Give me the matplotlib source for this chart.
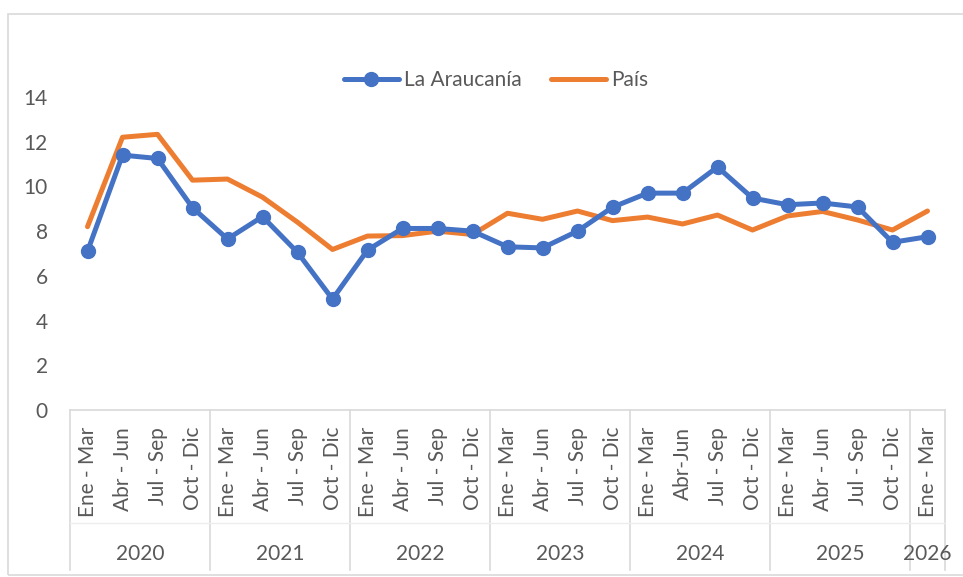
import matplotlib
matplotlib.use("Agg")
import matplotlib.pyplot as plt
from matplotlib.patches import Rectangle

plt.rcParams['font.family'] = ['Lato', 'DejaVu Sans']

years = ['2020', '2021', '2022', '2023', '2024', '2025', '2026']
quarters_per_year = [4, 4, 4, 4, 4, 4, 1]
quarter_labels = ['Ene - Mar', 'Abr - Jun', 'Jul - Sep', 'Oct - Dic',
                  'Ene - Mar', 'Abr - Jun', 'Jul - Sep', 'Oct - Dic',
                  'Ene - Mar', 'Abr - Jun', 'Jul - Sep', 'Oct - Dic',
                  'Ene - Mar', 'Abr - Jun', 'Jul - Sep', 'Oct - Dic',
                  'Ene - Mar', 'Abr-Jun', 'Jul - Sep', 'Oct - Dic',
                  'Ene - Mar', 'Abr - Jun', 'Jul - Sep', 'Oct - Dic',
                  'Ene - Mar']

araucania = [7.1, 11.4, 11.25, 9.05, 7.65, 8.65, 7.05, 4.96,
             7.15, 8.12, 8.12, 8.0, 7.3, 7.25, 8.0, 9.07,
             9.7, 9.7, 10.87, 9.48, 9.18, 9.26, 9.08, 7.5, 7.75]
pais = [8.2, 12.2, 12.33, 10.28, 10.33, 9.52, 8.4, 7.18,
        7.78, 7.8, 8.0, 7.85, 8.8, 8.53, 8.9, 8.47,
        8.63, 8.32, 8.72, 8.05, 8.68, 8.88, 8.5, 8.05, 8.9]

blue = '#4472C4'
orange = '#ED7D31'
gray_txt = '#595959'
gray_line = '#D9D9D9'
fs = 15

fig = plt.figure(figsize=(9.63, 5.77), dpi=100)
ax = fig.add_axes([70 / 963, 167 / 577, 875 / 963, 313 / 577])

x = list(range(len(quarter_labels)))
ax.plot(x, araucania, color=blue, lw=3.6, marker='o', ms=10,
        label='La Araucanía', solid_capstyle='round', zorder=3)
ax.plot(x, pais, color=orange, lw=3.6, label='País',
        solid_capstyle='round', zorder=2)

ax.set_xlim(-0.5, len(x) - 0.5)
ax.set_ylim(0, 14)
ax.set_yticks(range(0, 15, 2))
ax.tick_params(axis='y', length=0, pad=16, labelsize=fs, labelcolor=gray_txt)
ax.set_xticks([])
for s in ['left', 'top', 'right']:
    ax.spines[s].set_visible(False)
ax.spines['bottom'].set_color(gray_line)
ax.spines['bottom'].set_linewidth(1.2)

# multi-level category axis
trans = ax.get_xaxis_transform()
h = 313.0
for i, lab in enumerate(quarter_labels):
    ax.text(i, -17 / h, lab, rotation=90, ha='center', va='top',
            fontsize=fs, color=gray_txt, transform=trans)

start = 0
bounds = [-0.5]
for yr, n in zip(years, quarters_per_year):
    mid = start + (n - 1) / 2
    ax.text(mid, -144 / h, yr, ha='center', va='center',
            fontsize=fs, color=gray_txt, transform=trans)
    start += n
    bounds.append(start - 0.5)
for b in bounds:
    ax.plot([b, b], [0, -160 / h], color=gray_line, lw=1.2,
            transform=trans, clip_on=False)
ax.plot([-0.5, len(x) - 0.5], [-113 / h, -113 / h], color='#EDEDED', lw=1.0,
        transform=trans, clip_on=False)

fig.legend(loc='center', bbox_to_anchor=(0.515, 1 - 80 / 577), ncol=2,
           frameon=False, fontsize=fs, handlelength=2.65, columnspacing=1.4,
           handletextpad=0.25, labelcolor=gray_txt)

# chart border
fig.patches.append(Rectangle((8 / 963, 2 / 577), 1.0, 1 - 16 / 577,
                             transform=fig.transFigure, fill=False,
                             edgecolor=gray_line, lw=1.2))

fig.savefig('out.png', dpi=100)
